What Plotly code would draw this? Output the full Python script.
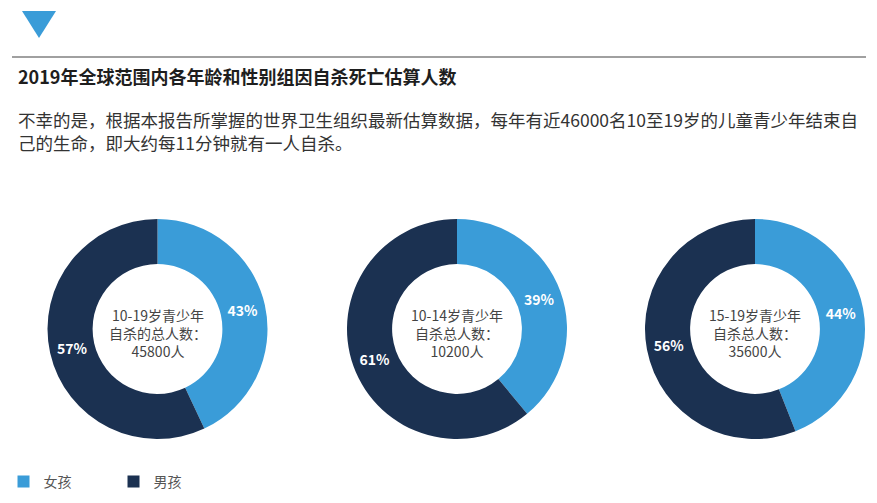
import plotly.graph_objects as go

# ---- data ----
sex_labels = ["女孩", "男孩"]
group_names = ["10-19岁青少年", "10-14岁青少年", "15-19岁青少年"]
group_line2 = ["自杀的总人数：", "自杀总人数：", "自杀总人数："]
group_totals = [45800, 10200, 35600]
girls_pct = [43, 39, 44]
boys_pct = [57, 61, 56]

title_text = "2019年全球范围内各年龄和性别组因自杀死亡估算人数"
para_lines = [
    "不幸的是，根据本报告所掌握的世界卫生组织最新估算数据，每年有近46000名10至19岁的儿童青少年结束自",
    "己的生命，即大约每11分钟就有一人自杀。",
]

# ---- style ----
W, H = 877, 503
LIGHT = "#3a9cd8"
DARK = "#1b3151"
FONT = "Noto Sans CJK SC"
centers_px = [157.5, 457, 755]
cy_px = 329
diam = 220

def px_x(x):
    return x / W

def px_y(y):
    return 1 - y / H

fig = go.Figure()
for i in range(3):
    cx = centers_px[i]
    fig.add_trace(go.Pie(
        labels=sex_labels,
        values=[girls_pct[i], boys_pct[i]],
        hole=0.59,
        sort=False,
        direction="clockwise",
        rotation=0,
        marker=dict(colors=[LIGHT, DARK], line=dict(width=0)),
        texttemplate="%{value}%",
        textposition="inside",
        insidetextorientation="horizontal",
        textfont=dict(family=FONT, size=14, color="white", weight="bold"),
        domain=dict(x=[px_x(cx - diam / 2), px_x(cx + diam / 2)],
                    y=[px_y(cy_px + diam / 2), px_y(cy_px - diam / 2)]),
        showlegend=(i == 0),
        hoverinfo="label+percent",
    ))
    fig.add_annotation(
        x=px_x(cx), y=px_y(cy_px + 4), xref="paper", yref="paper",
        text=f"{group_names[i]}<br>{group_line2[i]}<br>{group_totals[i]}人",
        showarrow=False, xanchor="center", yanchor="middle",
        font=dict(family=FONT, size=14, color="#444444"),
    )

# header decorations
fig.add_shape(type="path", xref="paper", yref="paper",
              path=f"M {px_x(22)},{px_y(11)} L {px_x(56)},{px_y(11)} L {px_x(39)},{px_y(38)} Z",
              fillcolor=LIGHT, line=dict(width=0))
fig.add_shape(type="line", xref="paper", yref="paper",
              x0=px_x(12), x1=px_x(866), y0=px_y(57), y1=px_y(57),
              line=dict(color="#a0a0a0", width=2))

fig.add_annotation(x=px_x(16), y=px_y(76), xref="paper", yref="paper",
                   text=f"<b>{title_text}</b>", showarrow=False,
                   xanchor="left", yanchor="middle",
                   font=dict(family=FONT, size=18, color="#1e1e1e"))
fig.add_annotation(x=px_x(16), y=px_y(131), xref="paper", yref="paper",
                   text="<br>".join(para_lines), showarrow=False,
                   xanchor="left", yanchor="middle", align="left",
                   font=dict(family=FONT, size=17.5, color="#333333"))

fig.update_layout(
    width=W, height=H,
    margin=dict(l=0, r=0, t=0, b=0),
    paper_bgcolor="white", plot_bgcolor="white",
    legend=dict(orientation="h", x=0.004, xanchor="left", y=px_y(482), yanchor="middle",
                font=dict(family=FONT, size=14, color="#555555"),
                entrywidth=65, entrywidthmode="pixels", traceorder="normal",
                itemclick=False),
)

fig.write_html("out.html",
               config={"displayModeBar": False},
               post_script="document.body.style.margin='0';document.body.style.overflow='hidden';")
